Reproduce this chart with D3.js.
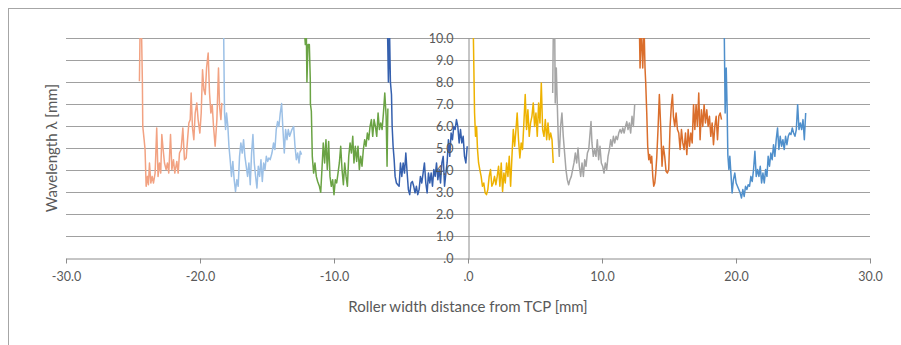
<!DOCTYPE html>
<html>
<head>
<meta charset="utf-8">
<script src="https://cdn.jsdelivr.net/npm/d3@7"></script>
<style>
  body { margin: 0; background: #fff; }
  svg text { font-family: Lato, "Open Sans", sans-serif; fill: #595959; }
</style>
</head>
<body>
<div id="chart"></div>
<script>
// tick values / labels (Excel "#.0" style)
var xTicks = [-30, -20, -10, 0, 10, 20, 30];
var xTickLabels = ["-30.0", "-20.0", "-10.0", ".0", "10.0", "20.0", "30.0"];
var yTicks = [0, 1, 2, 3, 4, 5, 6, 7, 8, 9, 10];
var yTickLabels = [".0", "1.0", "2.0", "3.0", "4.0", "5.0", "6.0", "7.0", "8.0", "9.0", "10.0"];

// one trace per roller segment, [distance mm, wavelength mm]
var seg1 = [[-24.52,8.03],[-24.47,10.5],[-24.37,10.5],[-24.30,8.0],[-24.27,5.98],[-24.17,5.38],[-24.10,4.93],[-24.02,3.26],[-23.92,3.71],[-23.85,3.33],
  [-23.77,4.32],[-23.67,3.41],[-23.57,3.71],[-23.47,3.41],[-23.35,3.86],[-23.23,5.91],[-23.13,3.71],[-23.03,4.32],[-22.93,3.86],[-22.85,5.61],
  [-22.75,4.93],[-22.65,4.32],[-22.53,4.02],[-22.43,4.32],[-22.33,3.86],[-22.20,5.61],[-22.10,4.02],[-21.98,4.47],[-21.88,3.86],[-21.73,4.39],
  [-21.63,3.86],[-21.53,4.77],[-21.41,4.93],[-21.28,5.91],[-21.16,4.47],[-21.03,4.55],[-20.93,5.38],[-20.83,6.14],[-20.73,6.29],[-20.66,7.5],
  [-20.56,5.91],[-20.46,5.38],[-20.36,6.59],[-20.24,7.05],[-20.14,6.29],[-20.01,5.68],[-19.91,6.59],[-19.81,8.56],[-19.71,7.65],[-19.61,7.43],
  [-19.51,8.64],[-19.39,9.32],[-19.29,7.5],[-19.19,6.59],[-19.09,6.97],[-18.99,5.98],[-18.87,5.08],[-18.74,6.29],[-18.62,8.64],[-18.54,6.89],
  [-18.44,6.29],[-18.37,7.05]];
var seg2 = [[-18.24,10.5],[-18.17,6.59],[-18.09,5.84],[-18.02,6.59],[-17.92,5.98],[-17.84,5.08],[-17.75,4.47],[-17.65,3.71],[-17.55,4.39],[-17.45,3.56],
  [-17.35,3.03],[-17.25,3.56],[-17.15,3.26],[-17.05,4.62],[-16.95,5.23],[-16.85,4.77],[-16.75,5.38],[-16.65,4.62],[-16.55,4.17],[-16.45,3.71],
  [-16.35,4.32],[-16.25,3.33],[-16.15,4.77],[-16.05,5.61],[-15.95,4.32],[-15.85,3.71],[-15.75,3.18],[-15.65,4.17],[-15.55,3.71],[-15.45,4.47],
  [-15.35,3.48],[-15.25,4.32],[-15.15,4.02],[-15.05,4.62],[-14.95,4.39],[-14.86,4.55],[-14.76,4.47],[-14.63,4.77],[-14.51,5.23],[-14.41,4.93],
  [-14.31,5.84],[-14.21,6.2],[-14.11,5.98],[-14.01,6.59],[-13.91,7.02],[-13.81,5.84],[-13.71,4.77],[-13.61,5.84],[-13.51,5.38],[-13.41,5.84],
  [-13.31,5.53],[-13.14,5.84],[-13.01,5.98],[-12.91,5.08],[-12.81,4.47],[-12.71,4.77],[-12.61,4.32],[-12.52,4.85],[-12.42,4.7]];
var seg3 = [[-12.22,10.5],[-12.14,9.7],[-12.07,10.5],[-12.02,8.0],[-11.94,9.7],[-11.84,9.7],[-11.77,8.1],[-11.76,7.0],[-11.69,6.67],[-11.62,4.62],
  [-11.52,3.86],[-11.42,4.32],[-11.32,3.71],[-11.22,3.48],[-11.09,3.26],[-10.99,2.99],[-10.90,4.02],[-10.80,5.23],[-10.70,4.32],[-10.60,5.38],
  [-10.50,4.02],[-10.40,5.3],[-10.30,3.71],[-10.20,3.26],[-10.10,3.56],[-10.00,2.88],[-9.90,3.56],[-9.80,3.41],[-9.70,3.86],[-9.60,4.32],
  [-9.50,5.08],[-9.40,4.02],[-9.30,3.33],[-9.20,4.32],[-9.10,3.71],[-9.00,3.26],[-8.90,4.62],[-8.80,5.23],[-8.70,4.77],[-8.60,5.53],
  [-8.51,4.32],[-8.41,5.08],[-8.31,4.39],[-8.21,5.08],[-8.11,4.02],[-8.01,4.62],[-7.91,4.17],[-7.81,4.93],[-7.71,5.38],[-7.61,5.08],
  [-7.51,5.68],[-7.41,5.38],[-7.31,5.98],[-7.21,6.29],[-7.11,5.53],[-7.01,6.29],[-6.91,5.98],[-6.81,5.53],[-6.71,6.59],[-6.61,5.84],
  [-6.51,6.14],[-6.41,5.84],[-6.31,6.59],[-6.21,7.5],[-6.11,6.44],[-6.04,4.17],[-5.98,6.8]];
var seg4 = [[-6.01,10.5],[-5.94,8.0],[-5.86,10.5],[-5.79,8.0],[-5.71,7.43],[-5.66,5.98],[-5.59,5.08],[-5.51,4.47],[-5.44,3.71],[-5.34,3.41],
  [-5.24,3.33],[-5.14,3.26],[-5.04,4.32],[-4.94,3.71],[-4.84,4.32],[-4.74,3.86],[-4.64,4.77],[-4.54,3.86],[-4.45,3.11],[-4.35,2.88],
  [-4.25,3.41],[-4.15,3.48],[-4.05,3.26],[-3.95,2.96],[-3.85,3.26],[-3.75,2.88],[-3.65,3.11],[-3.55,3.71],[-3.45,3.41],[-3.35,3.86],
  [-3.25,4.32],[-3.15,3.41],[-3.05,2.96],[-2.95,3.86],[-2.85,3.41],[-2.75,3.86],[-2.65,3.26],[-2.55,4.02],[-2.45,3.71],[-2.35,4.32],
  [-2.25,3.56],[-2.15,4.02],[-2.05,3.41],[-1.95,4.32],[-1.85,4.62],[-1.75,3.26],[-1.65,3.86],[-1.56,4.32],[-1.46,5.38],[-1.36,4.62],
  [-1.26,5.68],[-1.16,5.38],[-1.06,5.98],[-0.96,5.84],[-0.86,6.29],[-0.76,5.98],[-0.66,5.23],[-0.56,5.84],[-0.46,5.23],[-0.36,5.53],
  [-0.26,4.62],[-0.16,4.32],[-0.06,5.08]];
var seg5 = [[0.39,10.5],[0.49,6.59],[0.56,5.53],[0.64,5.98],[0.71,4.93],[0.79,4.32],[0.88,4.02],[0.98,3.71],[1.08,3.26],[1.18,3.41],
  [1.28,2.96],[1.38,2.88],[1.48,3.11],[1.58,3.71],[1.68,4.02],[1.78,3.26],[1.88,3.41],[1.98,3.71],[2.08,3.33],[2.18,3.71],
  [2.28,4.17],[2.38,3.26],[2.48,4.32],[2.58,3.03],[2.68,3.86],[2.78,3.41],[2.88,4.32],[2.98,3.71],[3.08,4.62],[3.18,3.26],
  [3.28,4.62],[3.38,5.84],[3.48,5.08],[3.58,5.84],[3.67,6.59],[3.77,5.38],[3.87,4.55],[3.97,5.23],[4.07,4.93],[4.17,6.14],
  [4.27,7.43],[4.37,5.84],[4.47,6.74],[4.57,5.53],[4.67,6.14],[4.77,6.44],[4.87,7.05],[4.97,5.98],[5.07,6.59],[5.17,5.53],
  [5.27,7.05],[5.37,6.14],[5.47,7.95],[5.57,5.84],[5.67,5.53],[5.77,6.29],[5.87,5.38],[5.97,6.14],[6.07,5.38],[6.17,5.68],
  [6.27,5.38],[6.36,4.32]];
var seg6 = [[6.32,7.5],[6.37,10.5],[6.47,10.5],[6.51,7.05],[6.59,8.64],[6.66,7.05],[6.74,5.38],[6.81,4.62],[6.91,5.98],[7.01,6.59],
  [7.11,5.53],[7.21,4.77],[7.31,4.02],[7.41,3.56],[7.51,3.33],[7.61,3.56],[7.71,3.71],[7.81,4.02],[7.91,4.32],[8.01,4.77],
  [8.11,4.32],[8.21,5.0],[8.31,4.17],[8.41,3.71],[8.51,4.32],[8.61,3.71],[8.71,4.47],[8.81,4.17],[8.91,4.77],[9.01,4.93],
  [9.11,5.68],[9.18,6.2],[9.25,5.23],[9.35,4.62],[9.45,4.93],[9.55,4.62],[9.65,5.38],[9.75,4.47],[9.85,5.08],[9.95,4.32],
  [10.05,4.17],[10.15,3.86],[10.25,4.32],[10.35,4.02],[10.45,4.62],[10.55,4.93],[10.65,5.38],[10.75,5.08],[10.85,5.53],[10.95,5.23],
  [11.05,5.53],[11.15,5.38],[11.25,5.68],[11.35,5.84],[11.45,5.68],[11.55,5.91],[11.65,5.68],[11.75,5.98],[11.85,6.2],[11.94,5.84],
  [12.04,6.14],[12.14,5.68],[12.24,6.44],[12.34,5.98],[12.44,6.97]];
var seg7 = [[12.79,10.5],[12.84,8.64],[12.94,10.5],[13.04,8.64],[13.14,10.5],[13.21,8.64],[13.26,8.0],[13.34,6.59],[13.41,5.08],[13.49,4.47],
  [13.56,4.7],[13.64,4.32],[13.71,4.62],[13.79,3.71],[13.86,3.26],[13.94,3.41],[14.01,3.86],[14.09,4.62],[14.18,5.84],[14.28,7.43],
  [14.38,5.98],[14.48,4.17],[14.58,5.08],[14.68,4.62],[14.78,3.94],[14.88,3.86],[14.98,4.02],[15.08,5.98],[15.18,6.97],[15.26,7.43],
  [15.33,6.44],[15.43,5.98],[15.53,6.59],[15.63,5.84],[15.73,5.68],[15.83,4.93],[15.93,5.84],[16.03,5.23],[16.13,4.93],[16.23,5.68],
  [16.33,4.7],[16.43,5.84],[16.53,5.08],[16.63,5.68],[16.73,5.23],[16.83,6.97],[16.93,5.84],[17.02,6.97],[17.12,5.98],[17.22,7.5],
  [17.32,5.38],[17.42,6.74],[17.52,5.98],[17.62,6.97],[17.72,6.14],[17.82,6.74],[17.92,5.98],[18.02,6.44],[18.12,5.53],[18.22,6.14],
  [18.32,5.15],[18.42,5.98],[18.52,6.44],[18.62,5.38],[18.72,6.44],[18.82,6.59],[18.92,6.29]];
var seg8 = [[19.02,10.5],[19.12,10.5],[19.19,6.59],[19.27,8.64],[19.34,6.74],[19.39,4.7],[19.47,4.02],[19.54,4.62],[19.62,3.86],[19.71,2.96],
  [19.81,3.56],[19.91,3.86],[20.01,3.41],[20.11,3.26],[20.21,3.11],[20.31,2.96],[20.41,2.73],[20.51,3.11],[20.61,2.8],[20.71,3.26],
  [20.81,3.11],[20.91,3.33],[21.01,3.26],[21.11,3.71],[21.21,3.48],[21.31,4.02],[21.41,4.85],[21.51,3.71],[21.61,4.02],[21.71,3.71],
  [21.81,4.17],[21.91,3.41],[22.01,3.86],[22.11,3.41],[22.21,4.02],[22.31,3.71],[22.40,4.62],[22.50,4.17],[22.60,4.77],[22.70,4.47],
  [22.80,5.15],[22.90,4.62],[23.00,5.38],[23.10,5.91],[23.20,4.93],[23.30,5.53],[23.40,5.08],[23.50,5.38],[23.60,4.93],[23.70,5.53],
  [23.80,5.15],[23.90,5.53],[24.00,5.68],[24.10,5.61],[24.20,5.91],[24.30,5.68],[24.40,5.53],[24.50,5.84],[24.60,6.97],[24.70,5.84],
  [24.80,6.14],[24.90,5.84],[25.00,6.29],[25.10,5.38],[25.20,6.59]];

var segments = [seg1, seg2, seg3, seg4, seg5, seg6, seg7, seg8];
var colors = ["#F2A282", "#9CC0E6", "#6AA344", "#3560AE", "#EEB200", "#A5A5A5", "#DA6E2C", "#4F8FCB"];

var W = 901, H = 345;
var margin = { top: 38, right: 31, bottom: 87, left: 66 };
var width = W - margin.left - margin.right,
    height = H - margin.top - margin.bottom;

var svg = d3.select("#chart").append("svg")
    .attr("width", W)
    .attr("height", H);

// outer chart frame (runs off the right / bottom edge)
svg.append("rect")
    .attr("x", 8.5).attr("y", 8.5)
    .attr("width", 1000).attr("height", 1000)
    .attr("fill", "none")
    .attr("stroke", "#a6a6a6");

var g = svg.append("g")
    .attr("transform", "translate(" + margin.left + "," + margin.top + ")");

var x = d3.scaleLinear().domain([-30, 30]).range([0, width]);
var y = d3.scaleLinear().domain([0, 10]).range([height, 0]);

// horizontal gridlines
g.append("g").selectAll("line")
    .data(yTicks.slice(1))
    .enter().append("line")
    .attr("x1", 0).attr("x2", width)
    .attr("y1", function(d) { return Math.round(y(d)) + 0.5; })
    .attr("y2", function(d) { return Math.round(y(d)) + 0.5; })
    .attr("stroke", "#a0a0a0")
    .attr("stroke-width", 1.2);

// x axis
var xAxis = g.append("g")
    .attr("transform", "translate(0," + (Math.round(height) + 0.5) + ")")
    .call(d3.axisBottom(x)
        .tickValues(xTicks)
        .tickFormat(function(d, i) { return xTickLabels[i]; })
        .tickSizeInner(5).tickSizeOuter(0).tickPadding(9));
xAxis.selectAll("path, line").attr("stroke", "#8c8c8c");
xAxis.selectAll("text").style("font-size", "12.5px").attr("fill", "#595959");

// clipped series
g.append("clipPath").attr("id", "plotclip")
  .append("rect").attr("x", 0).attr("y", 0).attr("width", width).attr("height", height);

var line = d3.line()
    .x(function(d) { return x(d[0]); })
    .y(function(d) { return y(d[1]); });

g.append("g").attr("clip-path", "url(#plotclip)")
  .selectAll("path")
    .data(segments)
    .enter().append("path")
    .attr("d", line)
    .attr("fill", "none")
    .attr("stroke", function(d, i) { return colors[i]; })
    .attr("stroke-width", 1.5)
    .attr("stroke-linejoin", "round");

// y axis at x = 0, labels sit over the data like in Excel
var yAxis = g.append("g")
    .attr("transform", "translate(" + (Math.round(x(0)) + 0.5) + ",0)")
    .call(d3.axisLeft(y)
        .tickValues(yTicks)
        .tickFormat(function(d, i) { return yTickLabels[i]; })
        .tickSize(0).tickPadding(15));
yAxis.select(".domain").attr("stroke", "#8c8c8c");
yAxis.selectAll("text").style("font-size", "12.5px").attr("fill", "#595959");

// axis titles
svg.append("text")
    .attr("x", margin.left + width / 2)
    .attr("y", 312)
    .attr("text-anchor", "middle")
    .style("font-size", "15px")
    .text("Roller width distance from TCP [mm]");

svg.append("text")
    .attr("transform", "translate(57," + (margin.top + height / 2) + ") rotate(-90)")
    .attr("text-anchor", "middle")
    .style("font-size", "15px")
    .text("Wavelength λ [mm]");
</script>
</body>
</html>
